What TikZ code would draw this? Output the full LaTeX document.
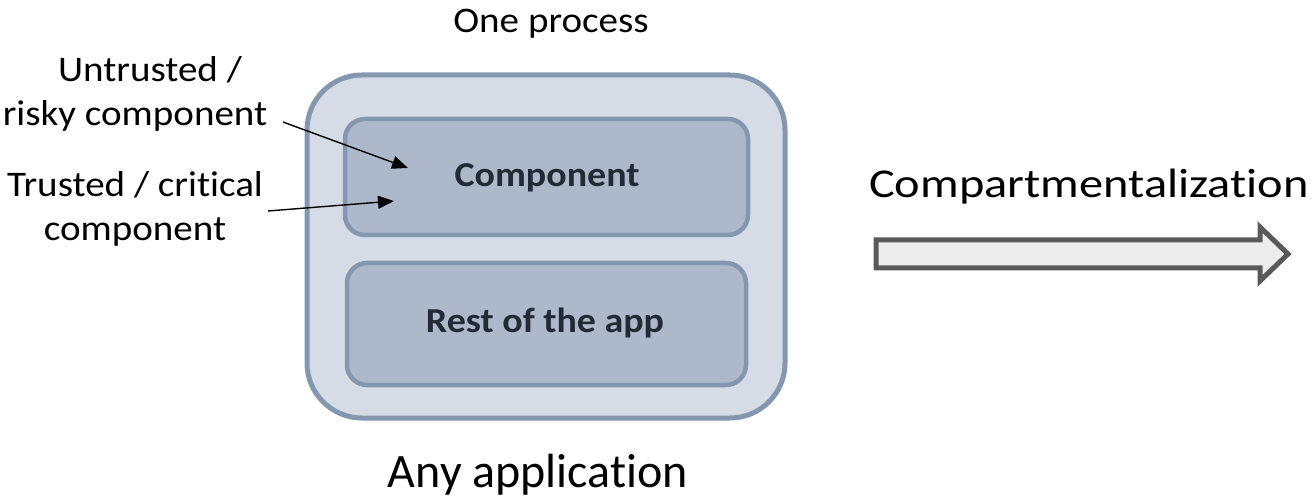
\documentclass[tikz,border=0pt]{standalone}
\usepackage{fontspec}
\setmainfont{Carlito}[Ligatures=NoCommon, FakeStretch=1.085]
\newfontfamily\widefont{Carlito}[Ligatures=NoCommon, FakeStretch=1.18]
\newfontfamily\plainfont{Carlito}[Ligatures=NoCommon]
\usetikzlibrary{arrows.meta}
\definecolor{procfill}{HTML}{D6DCE5}
\definecolor{procline}{HTML}{8497B0}
\definecolor{compfill}{HTML}{ADB9CA}
\definecolor{comptext}{HTML}{222A35}
\definecolor{bigfill}{HTML}{EDEDED}
\definecolor{bigline}{HTML}{595959}
\tikzset{
    proc/.style={
        draw=procline, fill=procfill, line width=5pt, rounded corners=55pt
    },
    comp/.style={
        draw=procline, fill=compfill, line width=4.5pt, rounded corners=20pt
    },
    comptxt/.style={
        font=\fontsize{35}{42}\selectfont\bfseries, text=comptext,
        anchor=base, inner sep=0pt
    },
    lbl/.style={
        font=\fontsize{36}{44}\selectfont, align=center, inner sep=0pt,
        anchor=base
    },
    ptr/.style={
        line width=1.4pt, -{Triangle[length=16pt,width=13pt]}
    }
}
\begin{document}
\begin{tikzpicture}[x=1pt,y=-1pt]
		\useasboundingbox (0,0) rectangle (1315,497);

		% the process
		\draw[proc] (307,75) rectangle (785,418);
		\node[lbl] (title) at (551,33) {One process};

		% components
		\draw[comp] (345,119) rectangle (748,235);
		\node[comptxt] (comp) at (547,187) {Component};
		\draw[comp] (347,263) rectangle (746,385);
		\node[comptxt] (rest) at (545,332) {Rest of the app};

		% labels and pointers
		\node[lbl] (risky) at (135,126) {\hspace*{30pt}Untrusted /\\risky component};
		\node[lbl] (trusted) at (135,241) {Trusted / critical\\component};
		\coordinate (riskyfrom) at (283,122);
		\coordinate (riskyto) at (408,168);
		\coordinate (trustfrom) at (268,211);
		\coordinate (trustto) at (394,201);
		\draw[ptr] (riskyfrom) -- (riskyto);
		\draw[ptr] (trustfrom) -- (trustto);

		% bottom caption
		\node[font=\plainfont\fontsize{48}{56}\selectfont, inner sep=0pt, anchor=base]
			(app) at (538,487) {Any application};

		% big arrow
		\node[font=\widefont\fontsize{41}{48}\selectfont, inner sep=0pt, anchor=base west]
			(compart) at (869,198) {Compartmentalization};
		\draw[draw=bigline, fill=bigfill, line width=5pt, line join=miter]
			(876,240) -- (1260,240) -- (1260,227) -- (1288,254)
			-- (1260,281) -- (1260,268) -- (876,268) -- cycle;

\end{tikzpicture}
\end{document}
